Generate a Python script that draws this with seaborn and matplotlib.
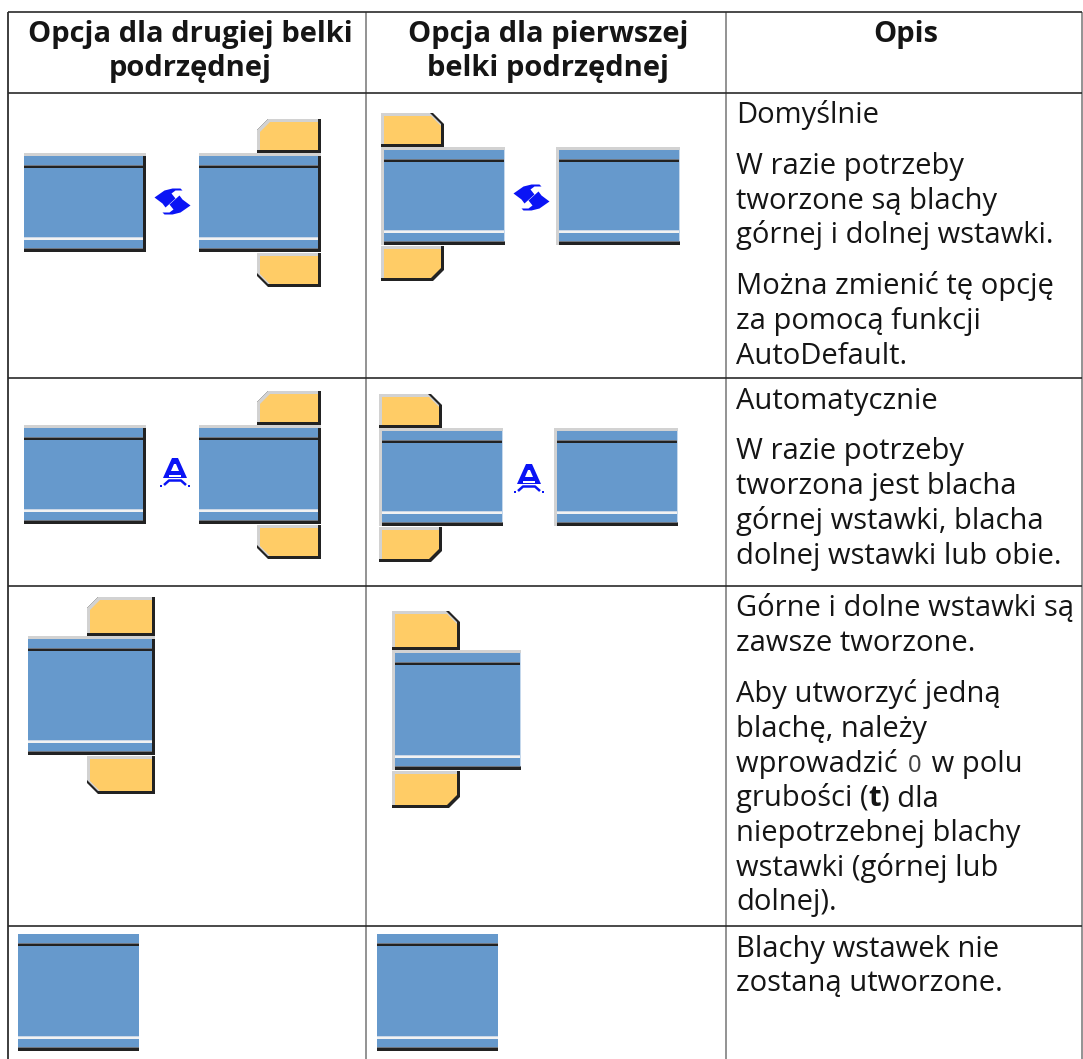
import matplotlib
matplotlib.use('Agg')
import matplotlib.pyplot as plt
from matplotlib.patches import Polygon, Rectangle
import seaborn as sns

# Tresc tabeli
headers = [['Opcja dla drugiej belki', 'podrzędnej'],
           ['Opcja dla pierwszej', 'belki podrzędnej'],
           ['Opis']]
row_1_text = ['Domyślnie', None, 'W razie potrzeby', 'tworzone są blachy', 'górnej i dolnej wstawki.',
              None, 'Można zmienić tę opcję', 'za pomocą funkcji', 'AutoDefault.']
row_2_text = ['Automatycznie', None, 'W razie potrzeby', 'tworzona jest blacha',
              'górnej wstawki, blacha', 'dolnej wstawki lub obie.']
row_3_text = ['Górne i dolne wstawki są', 'zawsze tworzone.', None, 'Aby utworzyć jedną', 'blachę, należy',
              [('wprowadzić ', 'n'), ('0', 'm'), (' w polu', 'n')],
              [('grubości (', 'n'), ('t', 'b'), (') dla', 'n')],
              'niepotrzebnej blachy', 'wstawki (górnej lub', 'dolnej).']
row_4_text = ['Blachy wstawek nie', 'zostaną utworzone.']

# Uklad w pikselach obrazu
WIDTH, HEIGHT = 1083, 1059
COL_LINES = [7.5, 366, 725.5, 1081.5]
ROW_LINES = [12, 92.5, 378, 586, 926]
TEXT_X = 736
LINE_H = 34.7
PARA_GAP = 16.3
TEXT_TOP = [123, 408.5, 616.5, 956.5]

BLUE = '#6699cc'
ORANGE = '#ffcc66'
DARK = '#222222'
LIGHT = '#d2d2d2'
ICON = '#0a14f5'
TEXT = '#151515'
FS = 21

sns.set_theme(style='white')
plt.rcParams['font.family'] = ['Open Sans', 'DejaVu Sans']

fig = plt.figure(figsize=(WIDTH / 100, HEIGHT / 100), dpi=100)
ax = fig.add_axes([0, 0, 1, 1])
ax.set_xlim(0, WIDTH)
ax.set_ylim(HEIGHT, 0)
sns.despine(ax=ax, left=True, bottom=True)
ax.set_xticks([])
ax.set_yticks([])
renderer = fig.canvas.get_renderer()


def rect(x0, y0, x1, y1, color, z=2):
    ax.add_patch(Rectangle((x0, y0), x1 - x0, y1 - y0, fc=color, ec='none', zorder=z))


def plate_pts(x0, y0, x1, y1, corner, c):
    pts = {'tl': [(x0 + c, y0), (x1, y0), (x1, y1), (x0, y1), (x0, y0 + c)],
           'bl': [(x0, y0), (x1, y0), (x1, y1), (x0 + c, y1), (x0, y1 - c)],
           'tr': [(x0, y0), (x1 - c, y0), (x1, y0 + c), (x1, y1), (x0, y1)],
           'br': [(x0, y0), (x1, y0), (x1, y1 - c), (x1 - c, y1), (x0, y1)]}
    return pts[corner]


def plate(x0, y0, x1, y1, corner):
    ax.add_patch(Polygon(plate_pts(x0, y0, x1, y1, corner, 11), fc=DARK, ec='none', zorder=3))
    ax.add_patch(Polygon(plate_pts(x0, y0, x1 - 3, y1 - 3, corner, 11), fc=LIGHT, ec='none', zorder=3))
    ax.add_patch(Polygon(plate_pts(x0 + 3, y0 + 3, x1 - 3, y1 - 3, corner, 10), fc=ORANGE, ec='none', zorder=3))


def stripes(x0, x1, top, bottom):
    # linia gorna (ciemna) i dolna (jasna) oraz dolna krawedz
    rect(x0, top + 8.5, x1, top + 9.5, '#6f7680', 4)
    rect(x0, top + 9.5, x1, top + 12, DARK, 4)
    rect(x0, bottom - 15, x1, bottom - 14, '#c9d6e6', 4)
    rect(x0, bottom - 14, x1, bottom - 12, '#f2f2f2', 4)
    rect(x0, bottom - 4, x1, bottom - 3, '#6f7680', 4)
    rect(x0, bottom - 3, x1, bottom, DARK, 4)


def beam_second(x, y, w, h, plates=None):
    # belka z ciemna prawa krawedzia
    rect(x, y, x + w, y + 3, LIGHT)
    rect(x, y + 3, x + w - 3, y + h, BLUE)
    rect(x + w - 3, y + 3, x + w, y + h, DARK)
    stripes(x, x + w - 3, y + 3, y + h)
    if plates:
        pw, top_h, bot_h = plates
        plate(x + w - pw, y - top_h, x + w, y, 'tl')
        plate(x + w - pw, y + h + 1, x + w, y + h + 1 + bot_h, 'bl')


def beam_first(x, y, w, h, plates=None):
    # belka z jasna lewa krawedzia
    rect(x, y, x + w, y + 3, LIGHT)
    rect(x, y, x + 3, y + h, LIGHT)
    rect(x + 3, y + 3, x + w, y + h, BLUE)
    stripes(x + 3, x + w, y + 3, y + h)
    rect(x + w - 1, y + 3, x + w, y + h - 4, '#c5d8ec', 4)
    if plates:
        pw, top_h, bot_h = plates
        plate(x, y - top_h, x + pw, y, 'tr')
        plate(x, y + h + 1, x + pw, y + h + 1 + bot_h, 'br')


def bare_beam(x, y, w, h):
    rect(x, y, x + w, y + h, BLUE)
    stripes(x, x + w, y, y + h)


def icon_swap(cx, cy):
    arrow = [(-18, -4), (-8, -11), (0, -13), (8, -13), (10, -11), (3, -11),
             (-1, -8), (3, -3), (-7, 6), (-10, 2)]
    for s in (1, -1):
        ax.add_patch(Polygon([(cx + s * a, cy + s * b) for a, b in arrow], fc=ICON, ec='none', zorder=5))


def icon_auto(cx, top):
    ax.add_patch(Polygon([(cx - 3, top), (cx + 3, top), (cx + 12, top + 20), (cx - 12, top + 20)],
                         fc=ICON, ec='none', zorder=5))
    ax.add_patch(Polygon([(cx - 1, top + 6), (cx + 1, top + 6), (cx + 4, top + 13), (cx - 4, top + 13)],
                         fc='white', ec='none', zorder=6))
    rect(cx - 6, top + 16.5, cx + 6, top + 18.5, 'white', 6)
    ax.plot([cx - 11, cx - 6, cx + 6, cx + 11], [top + 27, top + 22.5, top + 22.5, top + 27],
            color=ICON, lw=1.8, solid_capstyle='butt', zorder=5)
    ax.plot([cx - 14.5, cx + 13.5], [top + 27.5, top + 27.5], ls='none', marker='s', ms=1.8, mew=0,
            color=ICON, zorder=5)


def draw_runs(x, y, runs):
    for txt, style in runs:
        kw = {'n': {}, 'b': {'fontweight': 'bold'},
              'm': {'family': 'Noto Sans', 'fontsize': 17, 'color': '#444444'}}[style]
        opts = dict(fontsize=FS, color=TEXT, va='baseline', ha='left')
        opts.update(kw)
        pad = 2.5 if style == 'm' else 0
        t = ax.text(x + pad, y, txt, **opts)
        x += t.get_window_extent(renderer).width + 2 * pad


# Siatka tabeli
for i, x in enumerate(COL_LINES):
    ax.plot([x, x], [ROW_LINES[0], HEIGHT], color='#1c1c1c' if i == 0 else '#808080',
            lw=1.2, solid_capstyle='butt', zorder=1)
for y in ROW_LINES:
    ax.plot([COL_LINES[0], COL_LINES[-1]], [y, y], color='#2a2a2a', lw=1.2, solid_capstyle='butt', zorder=1)

# Naglowki
centers = [190, 548, 906]
for cx, lines in zip(centers, headers):
    for k, line in enumerate(lines):
        ax.text(cx, 42 + k * 34, line, fontsize=FS, fontweight='bold', color=TEXT, ha='center', va='baseline')

# Opisy
for top, lines in zip(TEXT_TOP, [row_1_text, row_2_text, row_3_text, row_4_text]):
    y = top
    for line in lines:
        if line is None:
            y += PARA_GAP
            continue
        if isinstance(line, str):
            ax.text(TEXT_X, y, line, fontsize=FS, color=TEXT, va='baseline', ha='left')
        else:
            draw_runs(TEXT_X, y, line)
        y += LINE_H

# Wiersz 1
beam_second(24, 153, 122, 99)
beam_second(199, 153, 122, 99, plates=(64, 34, 34))
icon_swap(172.5, 201.5)
beam_first(381, 147, 124, 98, plates=(63, 34, 35))
beam_first(556, 147, 124, 98)
icon_swap(531.5, 197.5)

# Wiersz 2
beam_second(24, 425, 122, 99)
beam_second(199, 425, 122, 99, plates=(64, 34, 34))
icon_auto(175, 458)
beam_first(379, 428, 124, 98, plates=(63, 34, 35))
beam_first(554, 428, 124, 98)
icon_auto(529, 464)

# Wiersz 3
beam_second(28, 636, 127, 119, plates=(68, 39, 38))
beam_first(392, 650, 129, 120, plates=(68, 39, 37))

# Wiersz 4
bare_beam(18, 934, 121, 117)
bare_beam(376.5, 934, 121, 117)

fig.savefig('out.png', dpi=100)
